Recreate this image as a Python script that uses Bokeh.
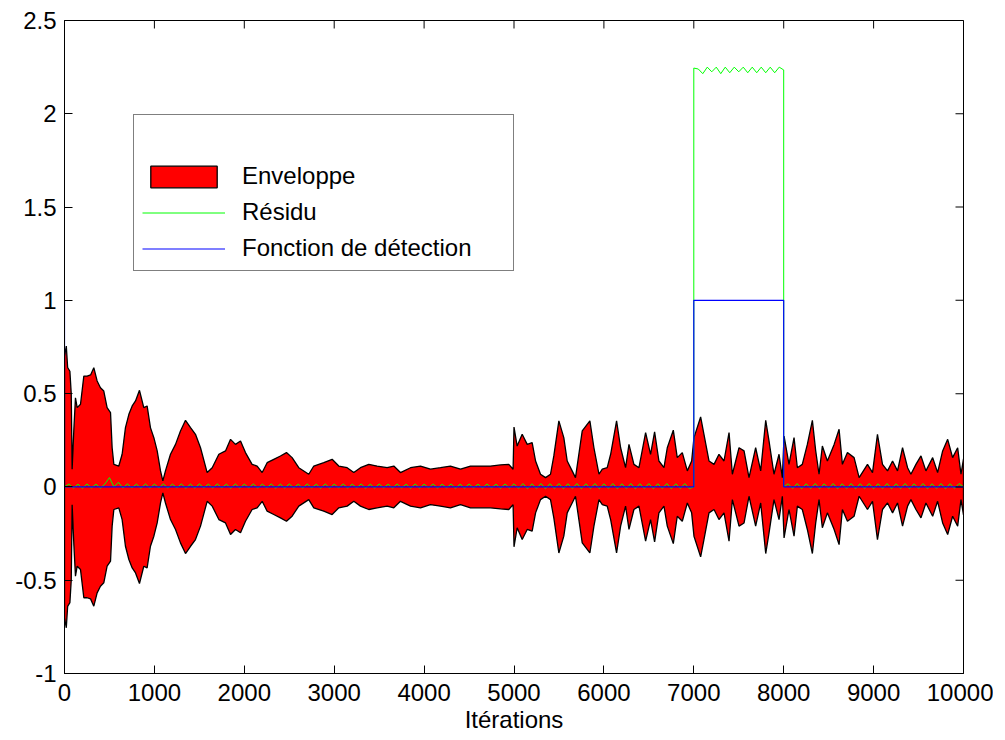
from bokeh.plotting import figure
from bokeh.models import Range1d, FixedTicker, Legend, LegendItem
from bokeh.embed import file_html
from bokeh.resources import INLINE

# ---------------- data ----------------
x_ticks = [0, 1000, 2000, 3000, 4000, 5000, 6000, 7000, 8000, 9000, 10000]
x_labels = ["0", "1000", "2000", "3000", "4000", "5000", "6000", "7000", "8000", "9000", "10000"]
y_ticks = [-1, -0.5, 0, 0.5, 1, 1.5, 2, 2.5]
y_labels = ["-1", "-0.5", "0", "0.5", "1", "1.5", "2", "2.5"]

# envelope half-width (upper edge; lower edge is its mirror)
env_it = [0, 20, 35, 60, 75, 85, 104, 122, 141, 178, 215, 252, 290, 326, 363, 400, 437, 474, 512,
          530, 549, 604, 641, 678, 716, 753, 790, 834, 882, 919, 956, 994, 1031, 1068, 1094, 1123,
          1179, 1235, 1290, 1346, 1402, 1457, 1513, 1587, 1643, 1717, 1791, 1847, 1902, 1958, 2013,
          2087, 2143, 2199, 2254, 2328, 2402, 2469, 2532, 2606, 2717, 2773, 2884, 2977, 3051, 3144,
          3218, 3292, 3385, 3478, 3589, 3663, 3737, 3849, 3960, 4071, 4182, 4293, 4405, 4516, 4627,
          4738, 4850, 4942, 4990, 5000, 5035, 5091, 5147, 5202, 5240, 5295, 5351, 5406, 5443, 5499,
          5554, 5592, 5647, 5684, 5759, 5844, 5889, 5945, 5982, 6037, 6075, 6141, 6186, 6241, 6279,
          6334, 6390, 6464, 6519, 6564, 6612, 6668, 6705, 6772, 6816, 6872, 6928, 6976, 7002, 7076,
          7113, 7169, 7225, 7280, 7336, 7392, 7429, 7503, 7559, 7614, 7688, 7744, 7800, 7837, 7892,
          7948, 7985, 8004, 8059, 8115, 8152, 8207, 8263, 8319, 8356, 8393, 8430, 8486, 8561, 8616,
          8653, 8709, 8783, 8839, 8932, 8988, 9043, 9099, 9155, 9211, 9266, 9322, 9378, 9415, 9471,
          9527, 9582, 9657, 9712, 9768, 9824, 9879, 9935, 9972, 10000]
env_amp = [0.70, 0.755, 0.64, 0.62, 0.50, 0.095, 0.309, 0.478, 0.425, 0.443, 0.594, 0.594, 0.60,
           0.639, 0.568, 0.532, 0.514, 0.425, 0.398, 0.21, 0.121, 0.112, 0.175, 0.318, 0.389, 0.434,
           0.461, 0.518, 0.425, 0.434, 0.318, 0.264, 0.193, 0.086, 0.032, 0.086, 0.175, 0.228, 0.300,
           0.357, 0.318, 0.282, 0.21, 0.077, 0.103, 0.175, 0.193, 0.255, 0.228, 0.246, 0.184, 0.121,
           0.112, 0.077, 0.130, 0.148, 0.166, 0.184, 0.157, 0.103, 0.068, 0.112, 0.130, 0.148, 0.112,
           0.103, 0.077, 0.103, 0.121, 0.112, 0.103, 0.112, 0.077, 0.103, 0.112, 0.095, 0.103, 0.112,
           0.095, 0.112, 0.112, 0.112, 0.118, 0.121, 0.095, 0.321, 0.219, 0.282, 0.228, 0.237, 0.139,
           0.068, 0.050, 0.068, 0.166, 0.354, 0.264, 0.139, 0.086, 0.050, 0.300, 0.354, 0.21, 0.068,
           0.095, 0.103, 0.175, 0.354, 0.21, 0.103, 0.228, 0.121, 0.103, 0.291, 0.175, 0.295, 0.139,
           0.103, 0.21, 0.304, 0.157, 0.184, 0.086, 0.139, 0.264, 0.375, 0.282, 0.139, 0.121, 0.175,
           0.139, 0.291, 0.068, 0.21, 0.193, 0.050, 0.21, 0.086, 0.357, 0.246, 0.068, 0.175, 0.050,
           0.273, 0.121, 0.264, 0.103, 0.121, 0.228, 0.357, 0.193, 0.068, 0.219, 0.139, 0.228, 0.309,
           0.121, 0.184, 0.157, 0.050, 0.121, 0.077, 0.282, 0.121, 0.086, 0.139, 0.086, 0.21, 0.103,
           0.068, 0.121, 0.166, 0.086, 0.157, 0.077, 0.193, 0.255, 0.157, 0.21, 0.068, 0.15]

# residual: before the fault (0..7000, step 50), during (7000..8000), after (8000..10000)
res_it_a = list(range(0, 7001, 50))
res_a = [0.0, 0.016, -0.006, 0.015, -0.007, 0.016, -0.005, 0.015, -0.006, 0.016,
         0.05, 0.0, 0.025, -0.006, 0.016, -0.005, 0.015, -0.007, 0.016, -0.006,
         0.015, -0.005, 0.016, -0.006, 0.015, -0.005, 0.016, -0.007, 0.015, -0.006,
         0.016, -0.005, 0.015, -0.006, 0.016, -0.005, 0.015, -0.007, 0.016, -0.006,
         0.015, -0.005, 0.016, -0.006, 0.015, -0.005, 0.016, -0.007, 0.015, -0.006,
         0.016, -0.005, 0.015, -0.006, 0.016, -0.005, 0.015, -0.007, 0.016, -0.006,
         0.015, -0.005, 0.016, -0.006, 0.015, -0.005, 0.016, -0.007, 0.015, -0.006,
         0.016, -0.005, 0.015, -0.006, 0.016, -0.005, 0.015, -0.007, 0.016, -0.006,
         0.015, -0.005, 0.016, -0.006, 0.015, -0.005, 0.016, -0.007, 0.015, -0.006,
         0.016, -0.005, 0.015, -0.006, 0.016, -0.005, 0.015, -0.007, 0.016, -0.006,
         0.017, -0.008, 0.018, -0.009, 0.017, -0.008, 0.018, -0.009, 0.017, -0.008,
         0.018, -0.009, 0.017, -0.008, 0.018, -0.009, 0.017, -0.008, 0.018, -0.009,
         0.017, -0.008, 0.018, -0.009, 0.017, -0.008, 0.018, -0.009, 0.017, -0.008,
         0.018, -0.009, 0.017, -0.008, 0.018, -0.009, 0.017, -0.008, 0.018, -0.009,
         0.0]
res_it_b = list(range(7000, 8001, 50))
res_b = [2.245, 2.24, 2.215, 2.25, 2.225, 2.25, 2.215, 2.25, 2.22, 2.25, 2.225,
         2.25, 2.22, 2.25, 2.22, 2.25, 2.22, 2.25, 2.22, 2.25, 2.235]
res_it_c = list(range(8000, 10001, 50))
res_c = [0.0, 0.017, -0.008, 0.018, -0.009, 0.017, -0.008, 0.018, -0.009, 0.017,
         -0.008, 0.018, -0.009, 0.017, -0.008, 0.018, -0.009, 0.017, -0.008, 0.018,
         -0.009, 0.017, -0.008, 0.018, -0.009, 0.017, -0.008, 0.018, -0.009, 0.017,
         -0.008, 0.018, -0.009, 0.017, -0.008, 0.018, -0.009, 0.017, -0.008, 0.018, 0.0]

# detection function (step)
det_it = [0, 0, 7000, 7000, 8000, 8000, 10000]
det_val = [1, 0, 0, 1, 1, 0, 0]

FONT = "Liberation Sans"
FS = "24px"

p = figure(frame_width=899, frame_height=653, output_backend="svg", toolbar_location=None,
           x_range=Range1d(0, 10000), y_range=Range1d(-1, 2.5),
           min_border_left=64, min_border_right=30, min_border_top=20, min_border_bottom=62)
p.xgrid.visible = False
p.ygrid.visible = False
p.outline_line_color = "black"
p.outline_line_width = 1
p.background_fill_color = "white"

# envelope patch
px = env_it + env_it[::-1]
py = env_amp + [-a for a in env_amp[::-1]]
env_r = p.patch(px, py, fill_color="#FF0000", line_color="black", line_width=1.3)

res_r = p.line(res_it_a + res_it_b + res_it_c, res_a + res_b + res_c, line_color="#00FF00", line_width=1)
det_r = p.line(det_it, det_val, line_color="#0000FF", line_width=1.2)

# inward tick marks on the top and right edges of the box
p.rect(x=x_ticks, y=[y_ticks[-1]] * len(x_ticks), width=1, height=16,
       width_units="screen", height_units="screen", fill_color="black", line_color=None)
p.rect(x=[x_ticks[-1]] * len(y_ticks), y=y_ticks, width=16, height=1,
       width_units="screen", height_units="screen", fill_color="black", line_color=None)

# axes
for ax in (p.xaxis[0], p.yaxis[0]):
    ax.major_tick_in = 8
    ax.major_tick_out = 0
    ax.minor_tick_line_color = None
    ax.axis_line_color = "black"
    ax.major_tick_line_color = "black"
    ax.major_label_text_font = FONT
    ax.major_label_text_font_size = FS
    ax.major_label_text_color = "black"

p.xaxis[0].ticker = FixedTicker(ticks=x_ticks)
p.xaxis[0].major_label_overrides = {t: l for t, l in zip(x_ticks, x_labels)}
p.xaxis[0].major_label_standoff = 10
p.xaxis[0].axis_label = "Itérations"
p.xaxis[0].axis_label_text_font = FONT
p.xaxis[0].axis_label_text_font_size = FS
p.xaxis[0].axis_label_text_font_style = "normal"
p.xaxis[0].axis_label_text_color = "black"
p.xaxis[0].axis_label_standoff = 2

p.yaxis[0].ticker = FixedTicker(ticks=y_ticks)
p.yaxis[0].major_label_overrides = {t: l for t, l in zip(y_ticks, y_labels)}
p.yaxis[0].major_label_standoff = 8

legend = Legend(items=[LegendItem(label="Enveloppe", renderers=[env_r]),
                       LegendItem(label="Résidu", renderers=[res_r]),
                       LegendItem(label="Fonction de détection", renderers=[det_r])],
                location=(69, 402), margin=0, padding=8,
                border_line_color="black", border_line_width=1,
                background_fill_color="white", background_fill_alpha=1.0,
                label_text_font=FONT, label_text_font_size=FS, label_text_color="black",
                glyph_width=83, glyph_height=27, label_height=27, label_standoff=17,
                spacing=8, label_width=263,
                title=" ", title_text_font_size="20px", title_standoff=16)
p.add_layout(legend)

open("out.html", "w").write(file_html(p, INLINE))
